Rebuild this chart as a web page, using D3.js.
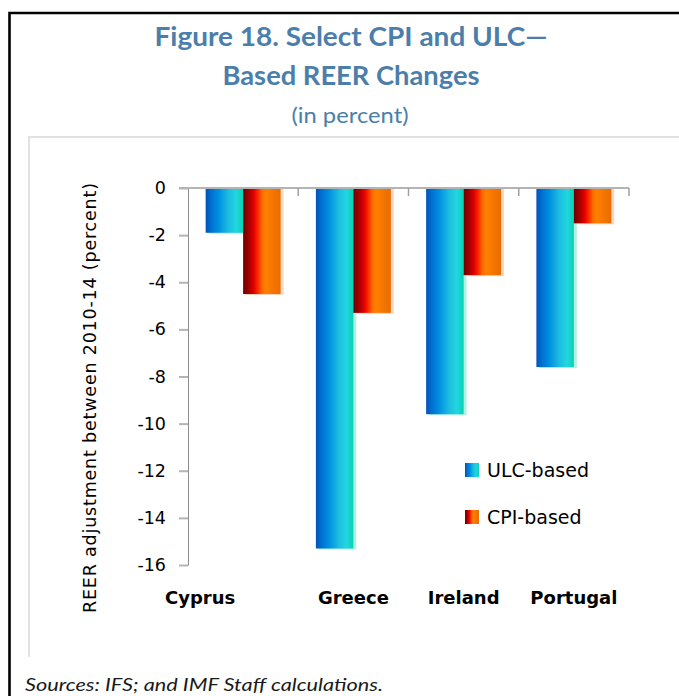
<!DOCTYPE html>
<html>
<head>
<meta charset="utf-8">
<script src="https://cdn.jsdelivr.net/npm/d3@7/dist/d3.min.js"></script>
<style>
  body { margin: 0; background: #fff; }
  svg { display: block; }
</style>
</head>
<body>
<div id="chart"></div>
<script>
// Data
var countries = ['Cyprus', 'Greece', 'Ireland', 'Portugal'];
var seriesNames = ['ULC-based', 'CPI-based'];
var ulcValues = [-1.9, -15.3, -9.6, -7.6];
var cpiValues = [-4.5, -5.3, -3.7, -1.5];
var yTicks = [0, -2, -4, -6, -8, -10, -12, -14, -16];

var titleLines = ['Figure 18. Select CPI and ULC\u2014', 'Based REER Changes'];
var subtitle = '(in percent)';
var yTitle = 'REER adjustment between 2010-14 (percent)';
var source = 'Sources: IFS; and IMF Staff calculations.';

//   Base chart space
var width = 679, height = 696;
var plot = {left: 188, right: 629, top: 188, bottom: 565};

var svg = d3.select('#chart').append('svg')
    .attr('width', width)
    .attr('height', height);

// gradients for the bars
var defs = svg.append('defs');
function gradient(id, stops) {
    var g = defs.append('linearGradient')
        .attr('id', id)
        .attr('x1', 0).attr('y1', 0).attr('x2', 1).attr('y2', 0);
    stops.forEach(function(s) {
        g.append('stop').attr('offset', s[0]).attr('stop-color', s[1]);
    });
}
gradient('grad-ulc', [[0, '#0052b8'], [0.15, '#0070d2'], [0.35, '#0090e0'],
    [0.6, '#1cbce0'], [0.82, '#22d6e0'], [1, '#06d2b0']]);
gradient('grad-cpi', [[0, '#6e0000'], [0.12, '#960000'], [0.28, '#e00000'],
    [0.38, '#ff2000'], [0.5, '#ff6a00'], [0.6, '#ff8000'], [1, '#e86c00']]);
var fills = ['url(#grad-ulc)', 'url(#grad-cpi)'];
var shades = ['#b6eee2', '#f8d8c0'];

// frame
svg.append('path')
    .attr('d', 'M9.5,' + height + 'V13H' + width)
    .attr('fill', 'none')
    .attr('stroke', '#000')
    .attr('stroke-width', 2.6);

// plot area border (left and top only visible)
svg.append('path')
    .attr('d', 'M29,657V137H' + width)
    .attr('fill', 'none')
    .attr('stroke', '#e2e2e2')
    .attr('stroke-width', 2);

// Title and subtitle
svg.selectAll('.title')
    .data(titleLines)
    .enter()
    .append('text')
    .attr('class', 'title')
    .attr('x', 351)
    .attr('y', function(d, i) { return 46 + i * 39; })
    .attr('text-anchor', 'middle')
    .attr('textLength', function(d, i) { return i === 0 ? 393 : 257; })
    .attr('lengthAdjust', 'spacingAndGlyphs')
    .style('font-family', 'Lato, sans-serif')
    .style('font-weight', 'bold')
    .style('font-size', '26.5px')
    .style('fill', '#4b7eaa')
    .text(function(d) { return d; });

svg.append('text')
    .attr('x', 350)
    .attr('y', 123)
    .attr('text-anchor', 'middle')
    .attr('textLength', 117)
    .attr('lengthAdjust', 'spacingAndGlyphs')
    .style('font-family', 'Lato, sans-serif')
    .style('font-size', '22px')
    .style('fill', '#4b7eaa')
    .text(subtitle);

// X Scale
var xScale = d3.scaleBand()
    .domain(countries)
    .range([plot.left, plot.right])
    .paddingInner(0.32)
    .paddingOuter(0.16);
var xSub = d3.scaleBand()
    .domain(seriesNames)
    .range([0, xScale.bandwidth()]);

// Y Scale
var yScale = d3.scaleLinear()
    .domain([-16, 0])
    .range([plot.bottom, plot.top]);

var yAxis = svg.append('g')
    .attr('transform', 'translate(' + plot.left + ',0)')
    .call(d3.axisLeft(yScale)
        .tickValues(yTicks)
        .tickFormat(function(d) { return String(d); })
        .tickSize(9)
        .tickSizeOuter(0)
        .tickPadding(13));
yAxis.select('.domain').attr('stroke', '#8c8c8c').attr('stroke-width', 1);
yAxis.selectAll('.tick line').attr('stroke', '#b4b4b4').attr('stroke-width', 2);
yAxis.selectAll('.tick text')
    .style('font-family', '"DejaVu Sans", sans-serif')
    .style('font-size', '17.5px')
    .style('fill', '#000');

// y axis title
svg.append('text')
    .attr('transform', 'translate(96,398) rotate(-90)')
    .attr('text-anchor', 'middle')
    .attr('textLength', 430)
    .attr('lengthAdjust', 'spacing')
    .style('font-family', '"DejaVu Sans", sans-serif')
    .style('font-size', '17.5px')
    .style('fill', '#000')
    .text(yTitle);

// Plot
var rows = countries.map(function(c, i) {
    return {country: c, values: [ulcValues[i], cpiValues[i]]};
});

var groups = svg.selectAll('.group')
    .data(rows)
    .enter()
    .append('g')
    .attr('class', 'group')
    .attr('transform', function(d) { return 'translate(' + xScale(d.country) + ',0)'; });

// soft shadow right of each bar
groups.selectAll('.shade')
    .data(function(d) { return d.values; })
    .enter()
    .append('rect')
    .attr('class', 'shade')
    .attr('x', function(d, i) { return xSub(seriesNames[i]) + 3; })
    .attr('y', yScale(0))
    .attr('width', xSub.bandwidth())
    .attr('height', function(d) { return yScale(d) - yScale(0) + 1; })
    .style('fill', function(d, i) { return shades[i]; });

groups.selectAll('.bar')
    .data(function(d) { return d.values; })
    .enter()
    .append('rect')
    .attr('class', 'bar')
    .attr('x', function(d, i) { return xSub(seriesNames[i]); })
    .attr('y', yScale(0))
    .attr('width', xSub.bandwidth())
    .attr('height', function(d) { return yScale(d) - yScale(0); })
    .style('fill', function(d, i) { return fills[i]; });

// zero line with category ticks
svg.append('line')
    .attr('x1', plot.left - 9)
    .attr('x2', plot.right)
    .attr('y1', yScale(0))
    .attr('y2', yScale(0))
    .attr('stroke', '#b4b4b4')
    .attr('stroke-width', 2);

svg.selectAll('.xtick')
    .data(countries)
    .enter()
    .append('line')
    .attr('class', 'xtick')
    .attr('x1', function(d) { return xScale(d) - xScale.paddingOuter() * xScale.step() + xScale.step(); })
    .attr('x2', function(d) { return xScale(d) - xScale.paddingOuter() * xScale.step() + xScale.step(); })
    .attr('y1', yScale(0))
    .attr('y2', yScale(0) + 8)
    .attr('stroke', '#a0a0a0')
    .attr('stroke-width', 1.5);

// category labels (Excel pushed the first one left)
var labelShift = {Cyprus: -43};
svg.selectAll('.xlabel')
    .data(countries)
    .enter()
    .append('text')
    .attr('class', 'xlabel')
    .attr('x', function(d) { return xScale(d) + xScale.bandwidth() / 2 + (labelShift[d] || 0); })
    .attr('y', 604)
    .attr('text-anchor', 'middle')
    .style('font-family', '"DejaVu Sans", sans-serif')
    .style('font-weight', 'bold')
    .style('font-size', '18px')
    .style('fill', '#000')
    .text(function(d) { return d; });

// legend
var legend = svg.selectAll('.legend')
    .data(seriesNames)
    .enter()
    .append('g')
    .attr('class', 'legend')
    .attr('transform', function(d, i) { return 'translate(465,' + (463 + i * 47) + ')'; });
legend.append('rect')
    .attr('width', 14)
    .attr('height', 14)
    .style('fill', function(d, i) { return fills[i]; });
legend.append('text')
    .attr('x', 22)
    .attr('y', 14)
    .style('font-family', '"DejaVu Sans", sans-serif')
    .style('font-size', '19px')
    .style('fill', '#000')
    .text(function(d) { return d; });

// source note
svg.append('text')
    .attr('x', 25)
    .attr('y', 691)
    .attr('textLength', 358)
    .attr('lengthAdjust', 'spacingAndGlyphs')
    .style('font-family', 'Lato, sans-serif')
    .style('font-style', 'italic')
    .style('font-size', '18px')
    .style('fill', '#1a1a1a')
    .text(source);
</script>
</body>
</html>
